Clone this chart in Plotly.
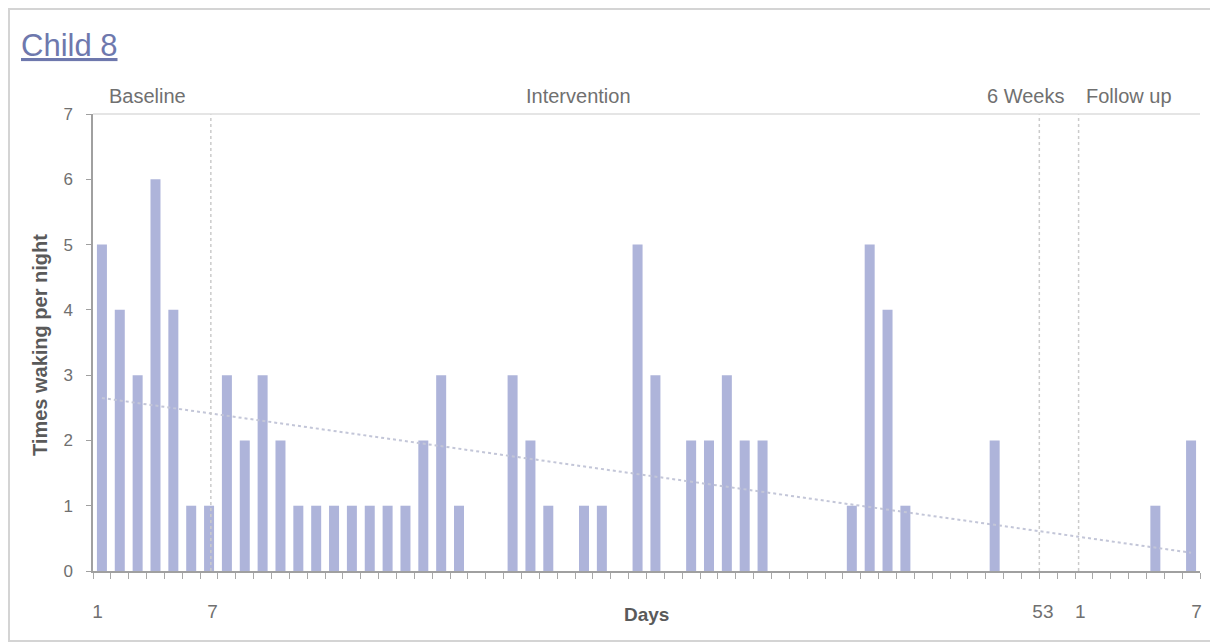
import plotly.graph_objects as go

# ---------------- data ----------------
days_main = list(range(1, 54))
values_main = [5, 4, 3, 6, 4, 1, 1, 3, 2, 3,
               2, 1, 1, 1, 1, 1, 1, 1, 2, 3,
               1, 0, 0, 3, 2, 1, 0, 1, 1, 0,
               5, 3, 0, 2, 2, 3, 2, 2, 0, 0,
               0, 0, 1, 5, 4, 1, 0, 0, 0, 0,
               2, 0, 0]
followup_days = list(range(1, 8))
values_followup = [0, 0, 0, 0, 1, 0, 2]
gap_slots = 2  # empty slots between day 53 and follow-up day 1

trend_slots = [1, 62]
trend_values = [2.65, 0.28]

phase_labels = ["Baseline", "Intervention", "6 Weeks", "Follow up"]
phase_lines = [7.1, 53.5, 55.7]
tick_labels = ["1", "7", "53", "1", "7"]
tick_positions = [0.75, 7.2, 53.7, 55.8, 62.3]

# slot positions on the axis
x_main = days_main
x_follow = [len(days_main) + gap_slots + d for d in followup_days]
x_all = x_main + x_follow
y_all = values_main + values_followup

GRAY = "#707070"
FONT = "Liberation Sans, Arial, sans-serif"

fig = go.Figure()
fig.add_trace(go.Bar(
    x=x_all, y=y_all, width=0.56,
    marker=dict(color="#aeb4da", line=dict(width=0)),
    showlegend=False,
))
fig.add_trace(go.Scatter(
    x=trend_slots, y=trend_values, mode="lines",
    line=dict(color="#c3c6d8", width=2, dash="dot"),
    showlegend=False,
))

# page pixel -> paper coords (plot area spans page x 93..1200, y 114..571)
def px_x(p):
    return (p - 93) / 1107

def px_y(p):
    return (571 - p) / 457

shapes = []
for xv in phase_lines:
    shapes.append(dict(type="line", xref="x", yref="paper", x0=xv, x1=xv, y0=0, y1=1,
                       line=dict(color="#cbcbcb", width=1.5, dash="dot")))
shapes.append(dict(type="line", xref="paper", yref="paper", x0=0, x1=1, y0=1, y1=1,
                   line=dict(color="#dddddd", width=1.5)))
shapes.append(dict(type="rect", xref="paper", yref="paper",
                   x0=px_x(9), x1=px_x(1212), y0=px_y(641), y1=px_y(9),
                   line=dict(color="#d4d4d4", width=2)))

annotations = [
    dict(text="<u>Child 8</u>", x=px_x(19), y=px_y(45), xref="paper", yref="paper",
         xanchor="left", yanchor="middle", showarrow=False,
         font=dict(family=FONT, size=31, color="#6e78ad")),
    dict(text="Days", x=0.5, y=px_y(614), xref="paper", yref="paper",
         xanchor="center", yanchor="middle", showarrow=False,
         font=dict(family=FONT, size=19, color="#5a5a5a", weight="bold")),
    dict(text="Times waking per night", x=px_x(40), y=px_y(345), xref="paper", yref="paper",
         xanchor="center", yanchor="middle", showarrow=False, textangle=-90,
         font=dict(family=FONT, size=20, color="#5a5a5a", weight="bold")),
]
phase_centers = [147, 578, 1025, 1129]
for lab, cx in zip(phase_labels, phase_centers):
    annotations.append(dict(text=lab, x=px_x(cx), y=px_y(96), xref="paper", yref="paper",
                            xanchor="center", yanchor="middle", showarrow=False,
                            font=dict(family=FONT, size=20, color=GRAY)))

fig.update_layout(
    width=1210, height=636,
    margin=dict(l=85, r=18, t=106, b=73),
    paper_bgcolor="white", plot_bgcolor="white",
    shapes=shapes, annotations=annotations,
    font=dict(family=FONT, color=GRAY),
)
fig.update_xaxes(
    range=[0.5, 62.5], showgrid=False, zeroline=False,
    showline=True, linecolor="#a0a0a0", linewidth=1.5,
    tickmode="array", tickvals=tick_positions, ticktext=tick_labels,
    ticks="", ticklabelstandoff=22,
    tickfont=dict(family=FONT, size=19, color=GRAY),
    minor=dict(tickmode="array", tickvals=[k + 0.5 for k in range(0, 63)],
               ticks="outside", ticklen=6, tickcolor="#a8a8a8", tickwidth=1, showgrid=False),
)
fig.update_yaxes(
    range=[0, 7], showgrid=False, zeroline=False,
    showline=True, linecolor="#a0a0a0", linewidth=1.5,
    tickmode="array", tickvals=list(range(0, 8)),
    ticks="outside", ticklen=5, tickcolor="#a0a0a0",
    ticklabelstandoff=10,
    tickfont=dict(family=FONT, size=17, color=GRAY),
)

fig.write_html("out.html")
